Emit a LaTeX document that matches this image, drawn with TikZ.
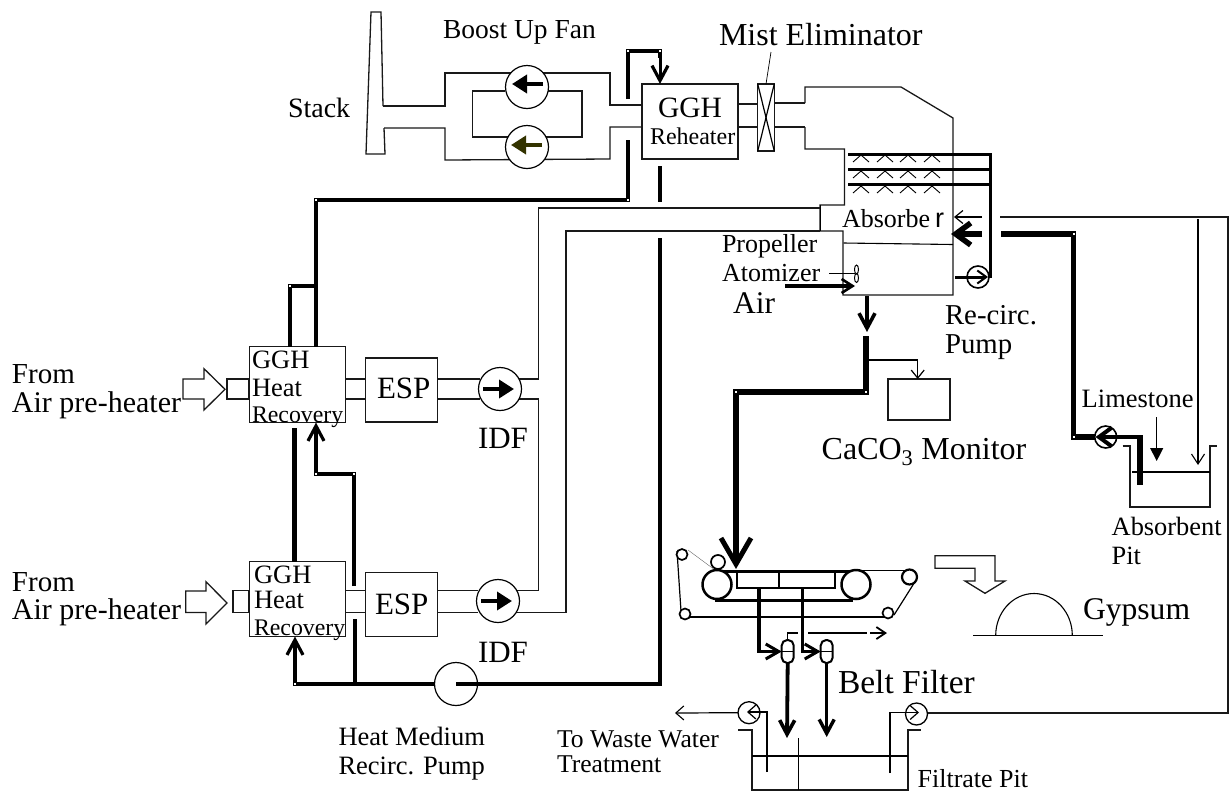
\documentclass[tikz,border=0pt]{standalone}
\usepackage{fontspec}
\setmainfont{Liberation Serif}
\newfontfamily\sansr{Liberation Sans}
\usetikzlibrary{arrows.meta}
\definecolor{olivefan}{RGB}{51,51,0}
\newcommand{\fz}[1]{\fontsize{#1}{#1}\selectfont}
\tikzset{
  lbl/.style={inner sep=0pt,outer sep=0pt,anchor=base west,text=black},
  duct/.style={line width=1.3pt,draw=black!90,line join=miter},
  thinline/.style={line width=1.2pt,draw=black},
  boxn/.style={draw=black!90,line width=1.3pt,fill=white,inner sep=0pt,outer sep=0pt},
  fan/.style={circle,draw=black,line width=1.2pt,fill=white,minimum size=43pt,inner sep=0pt,outer sep=0pt},
  smallpump/.style={circle,draw=black,line width=1.6pt,fill=white,minimum size=22pt,inner sep=0pt,outer sep=0pt},
  roll/.style={circle,draw=black,line width=2.5pt,fill=white,inner sep=0pt,outer sep=0pt},
  pipe/.style={line width=4pt,draw=black,line join=miter},
  fatpipe/.style={line width=5.5pt,draw=black,line join=miter},
  midpipe/.style={line width=3pt,draw=black,line join=miter},
  openhead/.style={-{Straight Barb[length=8pt,width=13pt,line width=1.2pt]}},
  midhead/.style={-{Straight Barb[length=11pt,width=14pt,line width=2.6pt]}},
  bighead/.style={-{Straight Barb[length=15pt,width=16pt,line width=3.2pt]}},
  hugehead/.style={-{Straight Barb[length=26pt,width=30pt,line width=5pt]}},
  fanhead/.style={-{Triangle[length=15pt,width=18pt]},line width=3.6pt},
  bendmark/.style={fill=white},
  capsule/.style={rectangle,rounded corners=5.5pt,draw=black,line width=2pt,fill=white,minimum width=12pt,minimum height=23pt,inner sep=0pt,outer sep=0pt}
}
\begin{document}
\begin{tikzpicture}[x=1pt,y=-1pt]
\useasboundingbox (0,0) rectangle (1229,793);

% ---- Stack
\draw[duct,fill=white] (383,106) -- (381,12) -- (371,12) -- (366,154) -- (385,154) -- (384,128);

% ---- Boost-up fan ducts
\draw[duct] (383,106) -- (445,106) -- (445,73) -- (610,73) -- (610,105) -- (642,105);
\draw[duct] (384,128) -- (445,128) -- (445,160) -- (610,159) -- (610,127) -- (642,127);
\draw[duct] (505,91) -- (472.5,91) -- (472.5,137) -- (582,137) -- (582,91) -- (548,91);
\node[fan] (bf1) at (527,87) {};
\node[fan] (bf2) at (527,147) {};
\coordinate (bf1r) at (543,84);
\coordinate (bf1l) at (512,84);
\coordinate (bf2r) at (542,145);
\coordinate (bf2l) at (511,145);
\draw[fanhead] (bf1r) -- (bf1l);
\draw[fanhead,color=olivefan] (bf2r) -- (bf2l);

% ---- GGH reheater, mist eliminator
\node[boxn,minimum width=96pt,minimum height=75pt] (rh) at (690,121.5) {};
\draw[duct] (rh.east |- 0,104) -- (758,104);
\draw[duct] (rh.east |- 0,127) -- (758,127);
\node[boxn,minimum width=16.5pt,minimum height=67pt] (me) at (766,117.5) {};
\draw[thinline] (me.north west) -- (me.south east);
\draw[thinline] (me.north east) -- (me.south west);
\coordinate (mecall) at (771,52);
\draw[line width=.7pt] (mecall) -- (me.north);

% ---- Absorber
\draw[duct] (me.east |- 0,103) -- (805,103);
\draw[duct] (me.east |- 0,127) -- (805,127);
\draw[duct] (805,103) -- (805,87) -- (901,87) -- (953,118) -- (953,295) -- (843,295) -- (843,231) -- (820,231) -- (820,205) -- (844.5,205) -- (844.5,149) -- (805,149) -- (805,127);
\draw[line width=1pt] (820,205) -- (820,231);
\draw[line width=1.1pt] (843.5,243) -- (953,244.5);
\foreach \yy in {154.5,169,184.5} \draw[midpipe] (848,\yy) -- (990,\yy);
\draw[midpipe] (990,153) -- (990,278);
\foreach \yy in {155,171,186}
  \foreach \xx in {861,885,908,932}
    \draw[line width=.9pt] (\xx-8,\yy+7) -- (\xx,\yy) -- (\xx+8,\yy+7);
% absorber feed arrows
\coordinate (thinA) at (982,217);
\coordinate (thinB) at (954,217);
\coordinate (thickA) at (982,234);
\coordinate (thickB) at (951,234);
\draw[thinline,openhead] (thinA) -- (thinB);
\draw[fatpipe,-{Straight Barb[length=15pt,width=22pt,line width=5.5pt]}] (thickA) -- (thickB);
% recirc pump
\node[smallpump] (rp) at (978,277) {};
\coordinate (rpin) at (955,277);
\draw[midpipe,-{Straight Barb[length=9pt,width=13pt,line width=2pt]}] (rpin) -- (988,277);
% propeller atomizer
\draw[line width=1.1pt] (829,273.5) -- (855,273.5);
\draw[line width=1pt] (856.5,269.5) ellipse (2pt and 4.5pt);
\draw[line width=1pt] (856.5,278) ellipse (2pt and 4.5pt);
\coordinate (airA) at (785,286);
\coordinate (airB) at (855,286);
\draw[midpipe,line width=3.6pt,midhead] (airA) -- (airB);

% ---- bottom of absorber to belt filter
\coordinate (abB) at (867,296);
\coordinate (abT) at (867,332);
\draw[pipe,line width=4.5pt,-{Straight Barb[length=15pt,width=16pt,line width=3.6pt]}] (abB) -- (abT);
\coordinate (f0) at (866,336);
\coordinate (f1) at (866,392);
\coordinate (f2) at (736,392);
\coordinate (f3) at (736,569);
\draw[fatpipe] (f0) -- (f1) -- (f2) -- (736,545);
\draw[fatpipe,hugehead] (736,540) -- (f3);

% ---- CaCO3 monitor
\node[boxn,minimum width=62pt,minimum height=41pt] (mon) at (919,399.5) {};
\coordinate (m0) at (869,360);
\draw[thinline,openhead] (m0) -| (mon.north -| 917.7,0);

% ---- Left: first train
\node[boxn,minimum width=96.5pt,minimum height=76pt] (hr1) at (297.5,384.5) {};
\node[boxn,minimum width=22pt,minimum height=20pt] (stub1) at (238,389) {};
\draw[duct,fill=white] (183,379) -- (204,379) -- (204,368.7) -- (225,389.3) -- (204,410) -- (204,399) -- (183,399) -- cycle;
\node[boxn,minimum width=72pt,minimum height=64pt] (esp1) at (401.5,390) {};
\draw[duct] (hr1.east |- 0,379) -- (esp1.west |- 0,379);
\draw[duct] (hr1.east |- 0,399) -- (esp1.west |- 0,399);
\draw[duct] (esp1.east |- 0,379) -- (480,379);
\draw[duct] (esp1.east |- 0,399) -- (480,399);

% ---- Left: second train
\node[boxn,minimum width=96.5pt,minimum height=75pt] (hr2) at (297.5,599) {};
\node[boxn,minimum width=16pt,minimum height=22.5pt] (stub2) at (241,601.5) {};
\draw[duct,fill=white] (185.7,591) -- (206,591) -- (206,581.7) -- (227,603) -- (206,624) -- (206,612.5) -- (185.7,612.5) -- cycle;
\node[boxn,minimum width=72pt,minimum height=63.5pt] (esp2) at (401.5,604.5) {};
\draw[duct] (hr2.east |- 0,590.5) -- (esp2.west |- 0,590.5);
\draw[duct] (hr2.east |- 0,612.5) -- (esp2.west |- 0,612.5);
\draw[duct] (esp2.east |- 0,590.5) -- (478,590.5);
\draw[duct] (esp2.east |- 0,612.5) -- (478,612.5);

% ---- Flue gas from IDFs to absorber
\draw[duct] (500,379) -- (538.6,379) -- (538.6,208) -- (820,208);
\draw[duct] (500,399) -- (538.6,399) -- (538.6,590.5) -- (500,590.5);
\draw[duct] (500,612.5) -- (566,612.5) -- (566,231) -- (820,231);
\node[fan] (idf1) at (500,389) {};
\node[fan] (idf2) at (498,601) {};
\coordinate (idf1a) at (483,389);
\coordinate (idf1b) at (514,389);
\coordinate (idf2a) at (481,601);
\coordinate (idf2b) at (512,601);
\draw[fanhead] (idf1a) -- (idf1b);
\draw[fanhead] (idf2a) -- (idf2b);

% ---- Heat medium loop
\coordinate (a0) at (628,140);
\coordinate (a1) at (628,200);
\coordinate (a2) at (316,200);
\draw[pipe] (a0) -- (a1) -- (a2) -- (a2 |- hr1.north);
\coordinate (b0) at (628,99);
\coordinate (b1) at (628,51);
\coordinate (b2) at (660,51);
\draw[pipe] (b0) -- (b1) -- (b2) -- (660,58);
\draw[midpipe,bighead] (b2) -- (b2 |- rh.north);
\coordinate (c0) at (660,166);
\coordinate (c1) at (660,202);
\draw[pipe,line width=4.5pt] (c0) -- (c1);
\node[fan] (hm) at (456,684) {};
\coordinate (d0) at (660,238);
\coordinate (d1) at (660,684);
\draw[pipe,line width=4.5pt] (d0) -- (d1) -- (hm.center);
\coordinate (e1) at (295,684);
\draw[pipe,bighead] (hm.west) -- (e1) -- (e1 |- hr2.south);
\coordinate (g0) at (355,684);
\coordinate (g1) at (355,619);
\draw[pipe,line width=4.5pt] (g0) -- (g1);
\coordinate (h0) at (354,586);
\coordinate (h1) at (354,474);
\coordinate (h2) at (316,474);
\draw[pipe,bighead] (h0) -- (h1) -- (h2) -- (h2 |- hr1.south);
\coordinate (i0) at (294,428);
\draw[pipe,line width=5pt] (i0) -- (i0 |- hr2.north);
\coordinate (j0) at (290,286);
\draw[pipe] (j0 |- hr1.north) -- (j0) -- (316,286);

% ---- Recycle and limestone slurry
\coordinate (k0) at (1001,234);
\coordinate (k1) at (1073.5,234);
\coordinate (k2) at (1073.5,437);
\draw[fatpipe] (k0) -- (k1) -- (k2) -- (1096,437);
\node[smallpump] (lp) at (1105.7,437) {};
\coordinate (k3) at (1140,437);
\coordinate (k4) at (1140,485);
\coordinate (lpe) at (1095.5,437);
\draw[pipe,-{Straight Barb[length=13pt,width=19pt,line width=4pt]}] (k3) -- (lpe);
\draw[fatpipe,line width=6pt] (1140,435) -- (k4);
% absorbent pit
\draw[duct] (1122.7,446) -- (1130,446) -- (1130,507) -- (1210,507) -- (1210,446) -- (1216.7,446);
\draw[thinline] (1132,472) -- (1210,472);
\coordinate (ls0) at (1156.7,417);
\coordinate (ls1) at (1156.7,461);
\draw[thinline,-{Triangle[length=13pt,width=13pt]}] (ls0) -- (ls1);
\coordinate (r0) at (1000,217);
\coordinate (r1) at (1228,217);
\coordinate (r2) at (1228,713);
\coordinate (lp0) at (1198,219);
\coordinate (lp1) at (1198,465);
\draw[duct] (r0) -- (r1) -- (r2) -- (927,713);
\draw[thinline,-{Straight Barb[length=10pt,width=13pt,line width=1.1pt]}] (lp0) -- (lp1);

% ---- Belt filter
\draw[line width=.4pt,draw=black!60] (688,550) -- (715,570);
\draw[thinline] (677,551) -- (681,611);
\draw[thinline] (685,617) -- (884,617);
\draw[thinline] (717,570.5) -- (905,570.5);
\draw[thinline] (915,581.7) -- (894,615);
\draw[midpipe] (717,571) -- (853,571);
\node[roll,minimum size=11pt,line width=1.7pt] (ra) at (682,554.5) {};
\node[roll,minimum size=14pt,line width=1.7pt] (rb) at (718,562) {};
\node[roll,minimum size=11pt,line width=1.7pt] (rc) at (685,614) {};
\node[roll,minimum size=11pt,line width=1.7pt] (rd) at (888,613) {};
\node[roll,minimum size=15pt,line width=2.2pt] (re) at (909.5,577) {};
\node[roll,minimum size=29pt] (rf) at (717,584.5) {};
\node[roll,minimum size=29pt] (rg) at (856,584.5) {};
\draw[midpipe] (715,600) -- (853,600);
\draw[line width=2.4pt] (737,571) -- (737,588) -- (835,588) -- (835,571);
\draw[line width=2.8pt] (779,571) -- (779,588);
\node[capsule] (s1) at (787.7,651.5) {};
\node[capsule] (s2) at (826.7,651.5) {};
\draw[line width=1.8pt] (s1.west) -- (s1.east);
\draw[line width=1.8pt] (s2.west) -- (s2.east);
\coordinate (v1) at (759,588);
\coordinate (v2) at (802.7,588);
\draw[midpipe,line width=3.4pt,-{Straight Barb[length=13pt,width=15pt,line width=3pt]}] (v1) |- (s1.west);
\draw[midpipe,line width=3.4pt,-{Straight Barb[length=13pt,width=15pt,line width=3pt]}] (v2) |- (s2.west);
\coordinate (t1) at (798,633);
\coordinate (t2) at (808,633);
\coordinate (t3) at (867,633);
\coordinate (t4) at (870,633);
\coordinate (t5) at (887,633);
\draw[line width=1.5pt] (s1.north) |- (t1);
\draw[line width=2.6pt] (t2) -- (t3);
\draw[line width=1.8pt,-{Straight Barb[length=9pt,width=12pt,line width=1.8pt]}] (t4) -- (t5);
\coordinate (s1t) at (787,738);
\coordinate (s2t) at (826.7,737);
\draw[midpipe,line width=3.8pt,-{Straight Barb[length=14pt,width=15pt,line width=3.6pt]}] (s1.south) -- (s1t);
\draw[midpipe,line width=3.2pt,-{Straight Barb[length=14pt,width=15pt,line width=3.4pt]}] (s2.south) -- (s2t);

% ---- Gypsum
\draw[duct] (935,555.7) -- (995,555.7) -- (995,581) -- (1005,581) -- (985,593.3) -- (965,581) -- (975,581) -- (975,568.3) -- (935,568.3) -- cycle;
\draw[line width=1.1pt] (995.7,635.5) arc[x radius=38.3,y radius=42,start angle=180,end angle=360];
\draw[line width=1.1pt] (973,635.5) -- (1102.7,635.5);

% ---- Filtrate pit
\draw[duct] (738,730) -- (752,730) -- (752,790) -- (908,790) -- (908,730) -- (921,730);
\draw[thinline] (752,756) -- (908,756);
\draw[thinline] (798.6,738) -- (798.6,790);
\node[smallpump,line width=1.3pt] (fp1) at (749,712.7) {};
\node[smallpump,line width=1.3pt] (fp2) at (916.5,714) {};
\coordinate (w0) at (675,713);
\coordinate (w1) at (767,772);
\coordinate (w2) at (890,773);
\draw[thinline,-{Straight Barb[length=8pt,width=14pt,line width=1.1pt]}] (fp1.west) -- (w0);
\draw[thinline,-{Straight Barb[length=8pt,width=14pt,line width=1.2pt]}] (w1) |- (747,712);
\draw[thinline,-{Straight Barb[length=8pt,width=14pt,line width=1.2pt]}] (w2) |- (919,712.5);

% ---- white marks at pipe bends
\foreach \pt in {a1,a2,b1,b2,e1,h1,h2,k1,k2,f1,f2,j0}
  \fill[bendmark] (\pt) ++(-1,-1) rectangle ++(2,2);

% ---- Labels
\node[lbl,font=\fz{27.5}] (tBoost) at (443,38) {Boost Up Fan};
\node[lbl,font=\fz{32}] (tMist) at (719,45) {Mist Eliminator};
\node[lbl,font=\fz{28}] (tStack) at (288,117) {Stack};
\node[lbl,font=\fz{29.5}] (tGGH) at (658,117) {GGH};
\node[lbl,font=\fz{24}] (tReh) at (650,144) {Reheater};
\node[lbl,font=\fz{26}] (tAbs) at (842,227) {Absorbe};
\node[lbl,font=\sansr\fz{27}] (tAbr) at (935,227) {r};
\node[lbl,font=\fz{26}] (tProp) at (722,252) {Propeller};
\node[lbl,font=\fz{26}] (tAtom) at (722,281) {Atomizer};
\node[lbl,font=\fz{31.5}] (tAir) at (733,313) {Air};
\node[lbl,font=\fz{28.8}] (tRe) at (945,324) {Re-circ.};
\node[lbl,font=\fz{28.8}] (tPump) at (945,353) {Pump};
\node[lbl,font=\fz{29}] (tFrom1) at (12,383) {From};
\node[lbl,font=\fz{30}] (tApre1) at (12,412) {Air pre-heater};
\node[lbl,font=\fz{26.5}] (tG1) at (252,368) {GGH};
\node[lbl,font=\fz{26.5}] (tH1) at (252,396) {Heat};
\node[lbl,font=\fz{23.8}] (tR1) at (252,422) {Recovery};
\node[lbl,font=\fz{31}] (tE1) at (377,398) {ESP};
\node[lbl,font=\fz{31}] (tI1) at (478,448) {IDF};
\node[lbl,font=\fz{29}] (tFrom2) at (12,591) {From};
\node[lbl,font=\fz{30}] (tApre2) at (12,619) {Air pre-heater};
\node[lbl,font=\fz{26.5}] (tG2) at (254,583) {GGH};
\node[lbl,font=\fz{26.5}] (tH2) at (254,608) {Heat};
\node[lbl,font=\fz{23.8}] (tR2) at (254,635) {Recovery};
\node[lbl,font=\fz{31}] (tE2) at (375,614) {ESP};
\node[lbl,font=\fz{31}] (tI2) at (478,662) {IDF};
\node[lbl,font=\fz{26.5}] (tHM) at (338.5,745) {Heat Medium};
\node[lbl,font=\fz{26.5}] (tRP) at (338.5,774) {Recirc. Pump};
\node[lbl,font=\fz{25.6}] (tWW) at (557,747) {To Waste Water};
\node[lbl,font=\fz{25.6}] (tTr) at (557,772) {Treatment};
\node[lbl,font=\fz{26}] (tFP) at (917.6,787) {Filtrate Pit};
\node[lbl,font=\fz{33.5}] (tBF) at (838,693) {Belt Filter};
\node[lbl,font=\fz{31.6}] (tGy) at (1083,619) {Gypsum};
\node[lbl,font=\fz{32}] (tCa) at (821.7,459) {CaCO\textsubscript{3} Monitor};
\node[lbl,font=\fz{26.5}] (tLi) at (1081.7,407) {Limestone};
\node[lbl,font=\fz{26.4}] (tAb) at (1111.7,535) {Absorbent};
\node[lbl,font=\fz{26.4}] (tPit) at (1111.7,564) {Pit};
\end{tikzpicture}
\end{document}
